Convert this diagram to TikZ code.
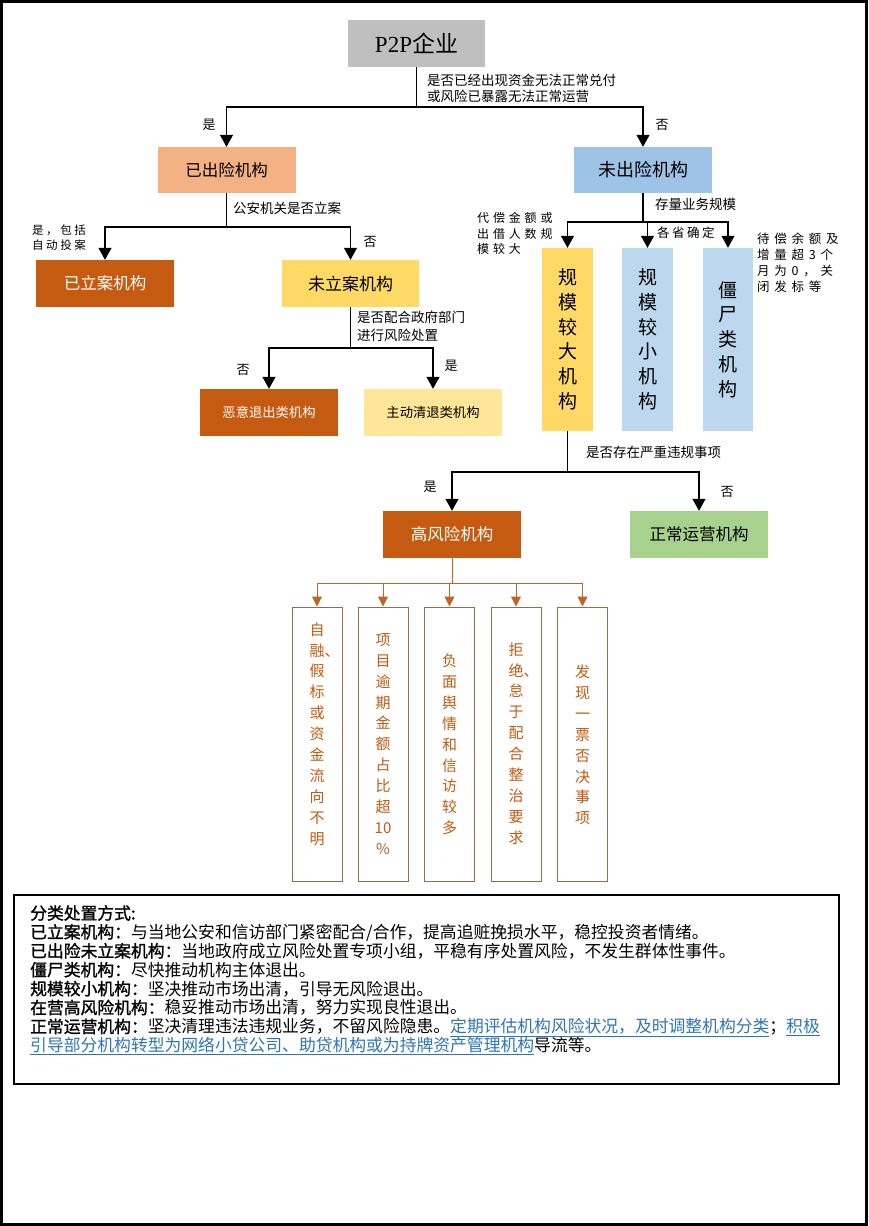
\documentclass[tikz,border=0pt]{standalone}
\usepackage{fontspec}
\setmainfont{Noto Sans CJK SC}
\newfontfamily\tnr{Liberation Serif}
\newfontfamily\cjkhd{Noto Sans CJK SC}[FakeBold=1.3]
\usetikzlibrary{arrows.meta}
\definecolor{pgray}{HTML}{BFBFBF}
\definecolor{salmon}{HTML}{F4B183}
\definecolor{lblue}{HTML}{9DC3E6}
\definecolor{llblue}{HTML}{BDD7EE}
\definecolor{dorange}{HTML}{C55A11}
\definecolor{yell}{HTML}{FFD966}
\definecolor{lyell}{HTML}{FFE699}
\definecolor{lgreen}{HTML}{A9D18E}
\definecolor{rbrown}{HTML}{9C6B45}
\definecolor{bline}{HTML}{C0652A}
\definecolor{rtextc}{HTML}{C55A11}
\definecolor{linkblue}{HTML}{2E75B6}
\newcommand\lnk[1]{\textcolor{linkblue}{\underline{#1}}}
\newcommand\hd[1]{{\cjkhd #1}}
\begin{document}
\begin{tikzpicture}[x=1pt,y=-1pt,
  box/.style={rectangle, inner sep=0pt, minimum width=138pt, minimum height=47pt, font=\fontsize{16.5}{18}\selectfont},
  vbox/.style={rectangle, inner sep=0pt, minimum width=51pt, minimum height=183pt, align=center, font=\fontsize{19}{24.7}\selectfont},
  rbox/.style={rectangle, draw=rbrown, line width=1pt, fill=white, inner sep=0pt, minimum width=50pt, minimum height=274pt},
  rtext/.style={align=center, inner sep=0pt, text=rtextc, font=\fontsize{15}{20.9}\selectfont},
  conn/.style={line width=1.1pt, draw=black},
  arr/.style={conn, -{Triangle[width=13pt,length=12pt]}},
  barr/.style={line width=1pt, draw=bline, -{Triangle[width=10pt,length=10pt]}},
  lab/.style={inner sep=0pt, align=left, font=\fontsize{13.5}{16}\selectfont},
  yn/.style={inner sep=0pt, font=\fontsize{13}{15}\selectfont},
  splab/.style={inner sep=0pt, align=left},
  tline/.style={inner sep=0pt, anchor=base west, font=\fontsize{16.8}{18.9}\selectfont}
]
\useasboundingbox (0,0) rectangle (868,1226);
\draw[line width=3pt] (1.5,1.5) rectangle (866.5,1224.5);

% main nodes
\node[box, fill=pgray, minimum width=137pt, font=\fontsize{23}{25}\selectfont] (p2p) at (416.5,43.5) {{\tnr P2P}企业};
\node[box, fill=salmon, minimum height=46pt] (ycx) at (226.5,170) {已出险机构};
\node[box, fill=lblue, minimum height=46pt, font=\fontsize{18}{20}\selectfont] (wcx) at (643,170) {未出险机构};
\node[box, fill=dorange, text=white] (yla) at (105,283.5) {已立案机构};
\node[box, fill=yell, minimum width=137pt, font=\fontsize{17}{19}\selectfont] (wla) at (350.5,283.5) {未立案机构};
\node[box, fill=dorange, text=white, font=\fontsize{13.3}{15}\selectfont] (ey) at (269,412.5) {恶意退出类机构};
\node[box, fill=lyell, font=\fontsize{13.3}{15}\selectfont] (zd) at (433,412.5) {主动清退类机构};
\node[vbox, fill=yell] (gd) at (567.5,339.5) {规\\模\\较\\大\\机\\构};
\node[vbox, fill=llblue] (gx) at (647.5,339.5) {规\\模\\较\\小\\机\\构};
\node[vbox, fill=llblue, minimum width=50pt] (js) at (728,339.5) {僵\\尸\\类\\机\\构};
\node[box, fill=dorange, text=white] (gf) at (452,534.5) {高风险机构};
\node[box, fill=lgreen] (zc) at (699,534.5) {正常运营机构};

% five risk boxes
\node[rbox] (r1) at (317,744) {};
\node[rbox] (r2) at (383,744) {};
\node[rbox] (r3) at (449.5,744) {};
\node[rbox] (r4) at (516,744) {};
\node[rbox] (r5) at (582.5,744) {};
\node[rtext] (r1t) at (317,734) {自\\融\rlap{、}\\假\\标\\或\\资\\金\\流\\向\\不\\明};
\node[rtext] (r2t) at (383,744) {项\\目\\逾\\期\\金\\额\\占\\比\\超\\10\\\%};
\node[rtext] (r3t) at (449.5,744.5) {负\\面\\舆\\情\\和\\信\\访\\较\\多};
\node[rtext] (r4t) at (516,743.5) {拒\\绝\rlap{、}\\怠\\于\\配\\合\\整\\治\\要\\求};
\node[rtext] (r5t) at (582.5,745) {发\\现\\一\\票\\否\\决\\事\\项};

% connectors level 1
\coordinate (j1) at (416.5,107);
\draw[conn] (p2p.south) -- (j1);
\draw[arr] (j1) -| (ycx.north);
\draw[arr] (j1) -| (wcx.north);
\node[lab, anchor=west] (q1) at (427,88) {是否已经出现资金无法正常兑付\\或风险已暴露无法正常运营};
\node[yn] (y1) at (209,125) {是};
\node[yn] (n1) at (662,125) {否};

% left branch
\coordinate (j2) at (226.5,227);
\draw[conn] (ycx.south) -- (j2);
\draw[arr] (j2) -| (yla.north);
\draw[arr] (j2) -| (wla.north);
\node[lab, anchor=west] (q2) at (233,208) {公安机关是否立案};
\node[splab, anchor=west, font=\fontsize{11.5}{15}\selectfont\addfontfeature{LetterSpace=22}] (y2) at (32,237.5) {是，包括\\自动投案};
\node[yn] (n2) at (370,242) {否};

\coordinate (j3) at (350.5,348);
\draw[conn] (wla.south) -- (j3);
\draw[arr] (j3) -| (ey.north);
\draw[arr] (j3) -| (zd.north);
\node[lab, anchor=west, font=\fontsize{13.5}{18}\selectfont] (q3) at (357,326) {是否配合政府部门\\进行风险处置};
\node[yn] (n3) at (243,370) {否};
\node[yn] (y3) at (451,366) {是};

% right branch
\coordinate (j4) at (643,222);
\draw[conn] (wcx.south) -- (j4);
\draw[arr] (j4) -| (gd.north);
\draw[arr] (j4) -| (gx.north);
\draw[arr] (j4) -| (js.north);
\node[lab, anchor=west] (q4) at (655,204) {存量业务规模};
\node[splab, anchor=west, font=\fontsize{12}{15.5}\selectfont\addfontfeature{LetterSpace=32}] (c1) at (477,233.5) {代偿金额或\\出借人数规\\模较大};
\node[splab, anchor=west, font=\fontsize{12.5}{15}\selectfont\addfontfeature{LetterSpace=20}] (c2) at (657,233) {各省确定};
\node[splab, anchor=west, font=\fontsize{12.5}{16}\selectfont\addfontfeature{LetterSpace=38}] (c3) at (757,263) {待偿余额及\\增量超3个\\月为0，关\\闭发标等};

% large scale branch
\coordinate (j5) at (567.5,472);
\draw[conn] (gd.south) -- (j5);
\draw[arr] (j5) -| (gf.north);
\draw[arr] (j5) -| (zc.north);
\node[lab, anchor=west] (q5) at (586,452) {是否存在严重违规事项};
\node[yn] (y5) at (430,487) {是};
\node[yn] (n5) at (727,492) {否};

% high risk to five boxes
\coordinate (j6) at (452,583);
\draw[line width=1pt, draw=bline] (gf.south) -- (j6);
\draw[barr] (j6) -| (r1.north);
\draw[barr] (j6) -| (r2.north);
\draw[barr] (j6) -| (r3.north);
\draw[barr] (j6) -| (r4.north);
\draw[barr] (j6) -| (r5.north);

% text box
\node[draw=black, line width=1.2pt, rectangle, inner sep=0pt, minimum width=825pt, minimum height=189pt] (tb) at (426.5,989.5) {};
\node[tline] (t1) at (30,919.4) {\hd{分类处置方式:}};
\node[tline] (t2) at (30,938.3) {\hd{已立案机构：}与当地公安和信访部门紧密配合/合作，提高追赃挽损水平，稳控投资者情绪。};
\node[tline] (t3) at (30,957.2) {\hd{已出险未立案机构：}当地政府成立风险处置专项小组，平稳有序处置风险，不发生群体性事件。};
\node[tline] (t4) at (30,976.1) {\hd{僵尸类机构：}尽快推动机构主体退出。};
\node[tline] (t5) at (30,995.0) {\hd{规模较小机构：}坚决推动市场出清，引导无风险退出。};
\node[tline] (t6) at (30,1013.9) {\hd{在营高风险机构：}稳妥推动市场出清，努力实现良性退出。};
\node[tline] (t7) at (30,1032.8) {\hd{正常运营机构：}坚决清理违法违规业务，不留风险隐患。\lnk{定期评估机构风险状况，及时调整机构分类}；\lnk{积极}};
\node[tline] (t8) at (30,1051.7) {\lnk{引导部分机构转型为网络小贷公司、助贷机构或为持牌资产管理机构}导流等。};
\end{tikzpicture}
\end{document}
